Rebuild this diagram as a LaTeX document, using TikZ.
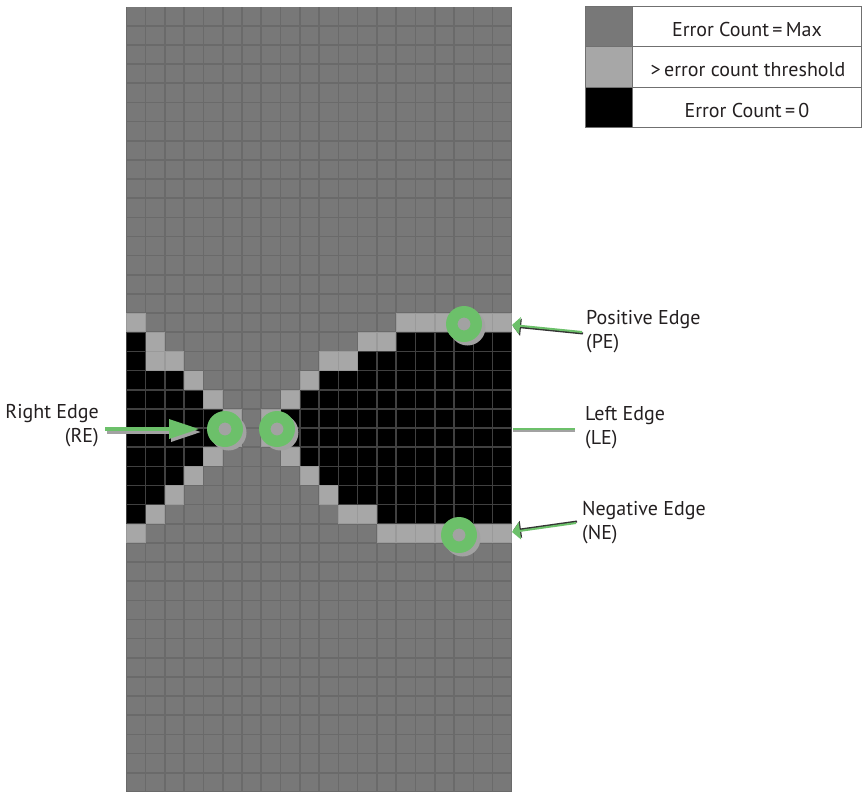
\documentclass[tikz,border=0pt]{standalone}
\usepackage{fontspec}
\setmainfont{PT Sans}
\usetikzlibrary{arrows.meta}
\definecolor{cellG}{HTML}{787878}
\definecolor{lineG}{HTML}{6A6A6A}
\definecolor{cellL}{HTML}{A7A7A7}
\definecolor{lineL}{HTML}{9A9A9A}
\definecolor{cellB}{HTML}{000000}
\definecolor{lineB}{HTML}{404040}
\definecolor{ringgreen}{RGB}{108,192,106}
\definecolor{shadowgray}{HTML}{A2A2A2}
\definecolor{legline}{HTML}{707070}
\definecolor{txt}{HTML}{231F20}
\newcommand\cellrun[4]{%
  \fill[line#4] ({126.3+#2*19.28},{6.7+#1*19.15}) rectangle ({126.3+(#3+1)*19.28},{6.7+(#1+1)*19.15});
  \foreach \c in {#2,...,#3}{%
    \fill[cell#4] ({126.3+\c*19.28+0.8},{6.7+#1*19.15+0.8}) rectangle ({126.3+(\c+1)*19.28-0.8},{6.7+(#1+1)*19.15-0.8});
  }%
}
\newcommand\ringmark[1]{%
  \fill[shadowgray] ([shift={(3.5,3.5)}]#1) circle (18pt);
  \fill[ringgreen, even odd rule] (#1) circle (18pt) (#1) circle (6.5pt);
}
\begin{document}
\begin{tikzpicture}[x=1pt,y=-1pt,
  lbl/.style={font=\fontsize{20}{24}\selectfont, inner sep=0pt, text=txt},
  bigarrow/.style={-{Triangle[length=30pt,width=19pt]}, line width=3.5pt},
  thinarrow/.style={-{Triangle[length=8pt,width=17pt]}, line width=2pt},
  thinline/.style={line width=2pt}]
\useasboundingbox (0,0) rectangle (862,792);
% grid background
\foreach \r in {0,...,40}{\cellrun{\r}{0}{19}{G}}
% row 16
\cellrun{16}{0}{0}{L}\cellrun{16}{14}{19}{L}
% row 17
\cellrun{17}{0}{0}{B}\cellrun{17}{1}{1}{L}\cellrun{17}{12}{13}{L}\cellrun{17}{14}{19}{B}
% row 18
\cellrun{18}{0}{0}{B}\cellrun{18}{1}{2}{L}\cellrun{18}{10}{11}{L}\cellrun{18}{12}{19}{B}
% row 19
\cellrun{19}{0}{2}{B}\cellrun{19}{3}{3}{L}\cellrun{19}{9}{9}{L}\cellrun{19}{10}{19}{B}
% row 20
\cellrun{20}{0}{3}{B}\cellrun{20}{4}{4}{L}\cellrun{20}{8}{8}{L}\cellrun{20}{9}{19}{B}
% rows 21-22
\cellrun{21}{0}{4}{B}\cellrun{21}{5}{5}{L}\cellrun{21}{7}{7}{L}\cellrun{21}{8}{19}{B}
\cellrun{22}{0}{4}{B}\cellrun{22}{5}{5}{L}\cellrun{22}{7}{7}{L}\cellrun{22}{8}{19}{B}
% row 23
\cellrun{23}{0}{3}{B}\cellrun{23}{4}{4}{L}\cellrun{23}{8}{8}{L}\cellrun{23}{9}{19}{B}
% row 24
\cellrun{24}{0}{2}{B}\cellrun{24}{3}{3}{L}\cellrun{24}{9}{9}{L}\cellrun{24}{10}{19}{B}
% row 25
\cellrun{25}{0}{1}{B}\cellrun{25}{2}{2}{L}\cellrun{25}{10}{10}{L}\cellrun{25}{11}{19}{B}
% row 26
\cellrun{26}{0}{0}{B}\cellrun{26}{1}{1}{L}\cellrun{26}{11}{12}{L}\cellrun{26}{13}{19}{B}
% row 27
\cellrun{27}{0}{0}{L}\cellrun{27}{13}{19}{L}
% legend
\fill[cellG] (585,7) rectangle (632,47);
\fill[cellL] (585,47) rectangle (632,87);
\fill[black] (585,87) rectangle (632,127);
\draw[legline, line width=1pt] (585,7) rectangle (861.5,127);
\draw[legline, line width=1pt] (585,47) -- (861.5,47) (585,87) -- (861.5,87) (632,7) -- (632,127);
\node[lbl, anchor=base] (lg1) at (747,37) {Error Count\,=\,Max};
\node[lbl, anchor=base] (lg2) at (748,77) {>\,error count threshold};
\node[lbl, anchor=base] (lg3) at (747,117) {Error Count\,=\,0};
% markers
\coordinate (cRE) at (225,429);
\coordinate (cLE) at (277,429);
\coordinate (cPE) at (464,324);
\coordinate (cNE) at (459,535);
\ringmark{cRE}\ringmark{cLE}\ringmark{cPE}\ringmark{cNE}
% labels
\node[lbl, anchor=base east] (tRE1) at (99,418.5) {Right Edge};
\node[lbl, anchor=base east] (tRE2) at (99,442.5) {(RE)};
\node[lbl, anchor=base west] (tPE1) at (586,324.5) {Positive Edge};
\node[lbl, anchor=base west] (tPE2) at (586,348.5) {(PE)};
\node[lbl, anchor=base west] (tLE1) at (585,420.5) {Left Edge};
\node[lbl, anchor=base west] (tLE2) at (585,444.5) {(LE)};
\node[lbl, anchor=base west] (tNE1) at (582,515.5) {Negative Edge};
\node[lbl, anchor=base west] (tNE2) at (582,539.5) {(NE)};
% connectors
\coordinate (reS) at (105,429);
\coordinate (reT) at (199,429);
\draw[bigarrow, shadowgray] ([shift={(2,3)}]reS) -- ([shift={(2,3)}]reT);
\draw[bigarrow, ringgreen] (reS) -- (reT);
\coordinate (peS) at (582,332);
\coordinate (peT) at (512,325);
\draw[thinarrow, black!80] ([shift={(1,1.5)}]peS) -- ([shift={(1,1.5)}]peT);
\draw[thinarrow, ringgreen] (peS) -- (peT);
\coordinate (leS) at (575,429);
\coordinate (leT) at (513,429);
\draw[thinline, shadowgray] ([shift={(0,1.5)}]leS) -- ([shift={(0,1.5)}]leT);
\draw[thinline, ringgreen] (leS) -- (leT);
\coordinate (neS) at (576,523);
\coordinate (neT) at (512,532);
\draw[thinarrow, black!80] ([shift={(1,-1.5)}]neS) -- ([shift={(1,-1.5)}]neT);
\draw[thinarrow, ringgreen] (neS) -- (neT);
\end{tikzpicture}
\end{document}
